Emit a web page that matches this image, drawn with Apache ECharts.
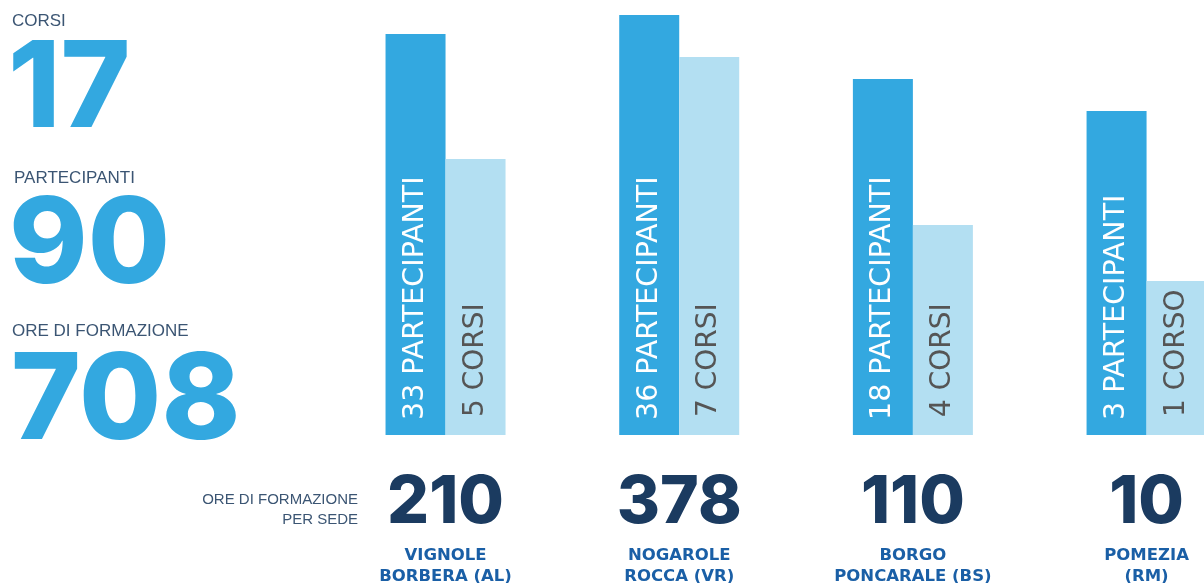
<!DOCTYPE html>
<html>
<head>
<meta charset="utf-8">
<script src="https://cdn.jsdelivr.net/npm/echarts@6/dist/echarts.min.js"></script>
<style>
html,body{margin:0;padding:0;background:#fff;overflow:hidden;}
#c{width:1270px;height:583px;}
</style>
</head>
<body>
<div id="c"></div>
<script>
// ---- data ----
const sedi = ['VIGNOLE\nBORBERA (AL)', 'NOGAROLE\nROCCA (VR)', 'BORGO\nPONCARALE (BS)', 'POMEZIA\n(RM)'];
const orePerSede = [210, 378, 110, 10];
const partecipanti = [33, 36, 18, 3];
const corsi = [5, 7, 4, 1];
// visual bar heights (arbitrary units)
const barPartecipanti = [401, 420, 356, 324];
const barCorsi = [276, 378, 210, 154];
const summaryLabels = ['CORSI', 'PARTECIPANTI', 'ORE DI FORMAZIONE'];
const summaryValues = [17, 90, 708];
const axisNote = ['ORE DI FORMAZIONE', 'PER SEDE'];

const BLUE = '#33a8e0', LIGHT = '#b3dff2', NAVY = '#1b3b60', MID = '#1a5fa6', GREY_TXT = '#3b5573';
const NUM_FONT = 'Inter';

const chart = echarts.init(document.getElementById('c'), null, {renderer: 'canvas'});

const summaryPos = [
  {lx: 12, ly: 21.5, vx: 8, vy: 91},
  {lx: 14, ly: 178.5, vx: 9, vy: 247},
  {lx: 12, ly: 331, vx: 11, vy: 403}
];
const graphics = [];
summaryLabels.forEach((l, i) => {
  graphics.push({type: 'text', x: summaryPos[i].lx, y: summaryPos[i].ly,
    style: {text: l, fontFamily: 'Liberation Sans', fontSize: 17, fill: GREY_TXT, verticalAlign: 'middle', align: 'left'}});
  graphics.push({type: 'text', x: summaryPos[i].vx, y: summaryPos[i].vy,
    style: {text: String(summaryValues[i]), fontFamily: NUM_FONT, fontWeight: 800, fontSize: 119, fill: BLUE, verticalAlign: 'middle', align: 'left'}});
});
graphics.push({type: 'text', x: 358, y: 510,
  style: {text: axisNote.join('\n'), fontFamily: 'Liberation Sans', fontSize: 15, lineHeight: 20.5, fill: GREY_TXT, verticalAlign: 'middle', align: 'right'}});

chart.setOption({
  animation: false,
  backgroundColor: '#fff',
  grid: {left: 328.7, width: 934.7, top: 0, height: 435, containLabel: false, outerBoundsMode: 'none'},
  xAxis: {
    type: 'category',
    data: sedi,
    axisLine: {show: false}, axisTick: {show: false},
    axisLabel: {
      margin: 26,
      interval: 0,
      formatter: (v, i) => {
        const parts = v.split('\n');
        return '{h|' + orePerSede[i] + '}\n' + parts.map(p => '{n|' + p + '}').join('\n');
      },
      rich: {
        h: {fontFamily: NUM_FONT, fontWeight: 800, fontSize: 66, lineHeight: 83.5, color: NAVY, align: 'center'},
        n: {fontFamily: 'DejaVu Sans', fontWeight: 'bold', fontSize: 16.5, lineHeight: 21.5, color: MID, align: 'center'}
      }
    }
  },
  yAxis: {type: 'value', min: 0, max: 435, show: false, splitLine: {show: false}},
  series: [
    {
      type: 'bar', data: barPartecipanti, barWidth: 60, barGap: '0%',
      itemStyle: {color: BLUE},
      label: {show: true, position: 'insideBottom', rotate: 90, align: 'left', verticalAlign: 'middle', distance: 15,
        formatter: p => partecipanti[p.dataIndex] + ' PARTECIPANTI',
        fontFamily: 'DejaVu Sans', fontSize: 28.5, color: '#fff'}
    },
    {
      type: 'bar', data: barCorsi, barWidth: 60,
      itemStyle: {color: LIGHT},
      label: {show: true, position: 'insideBottom', rotate: 90, align: 'left', verticalAlign: 'middle', distance: 18,
        formatter: p => corsi[p.dataIndex] + (corsi[p.dataIndex] === 1 ? ' CORSO' : ' CORSI'),
        fontFamily: 'DejaVu Sans', fontSize: 28, color: '#555555'}
    }
  ],
  graphic: graphics
});
</script>
</body>
</html>
